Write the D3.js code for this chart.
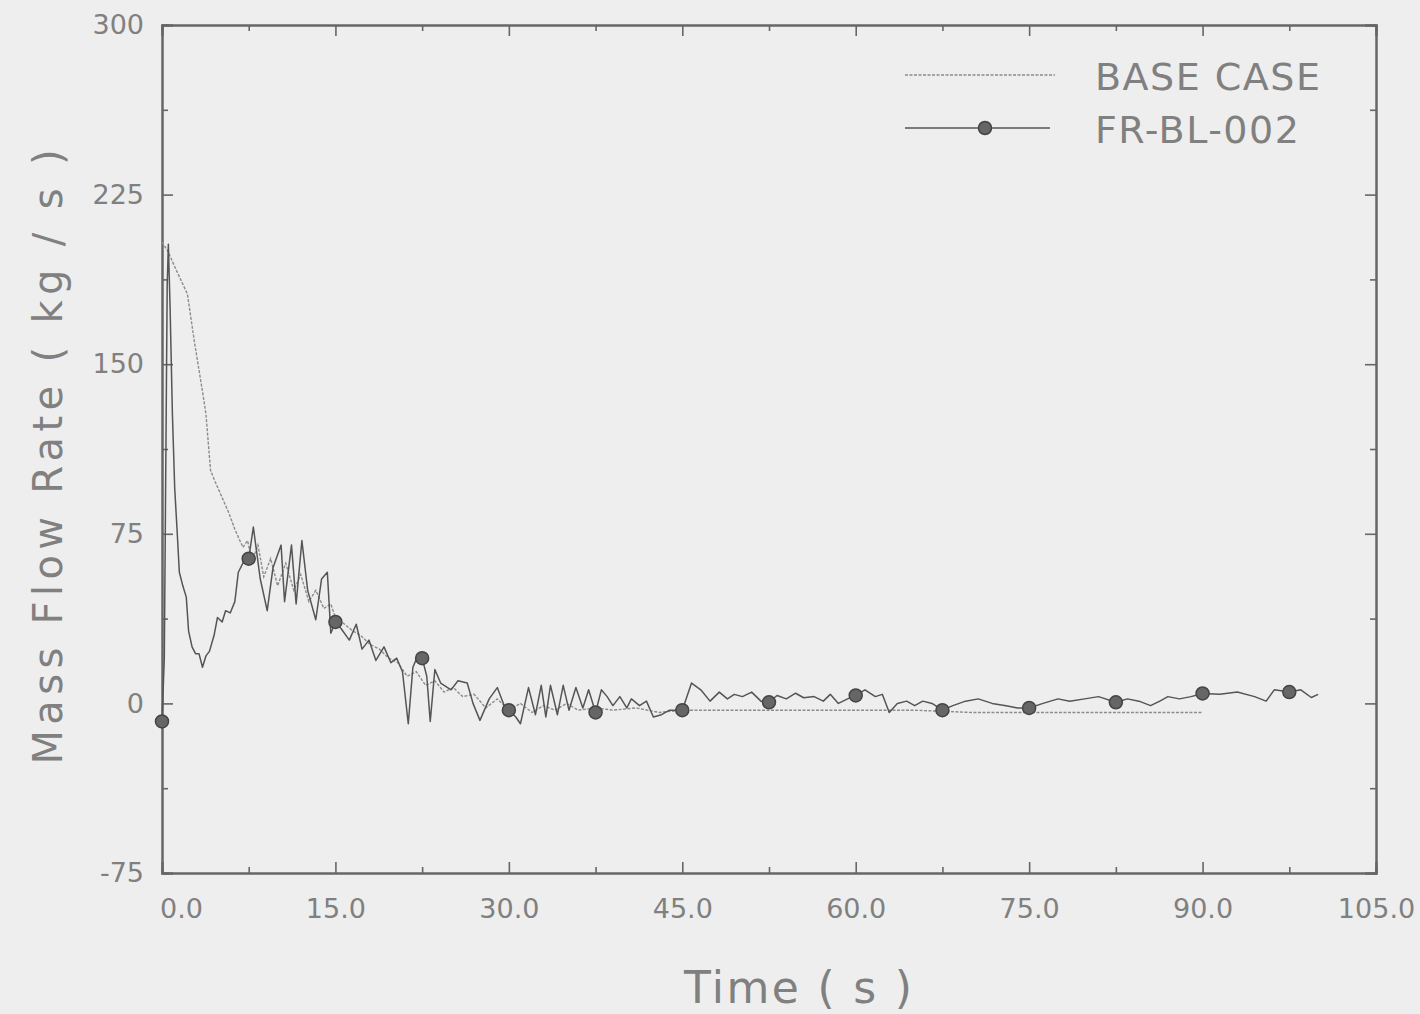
<!DOCTYPE html>
<html lang="en">
  <head>
    <meta charset="UTF-8" />
    <title>Mass Flow Rate</title>
    <style>
      html, body { margin: 0; padding: 0; background: #eeeeee; }
      text { font-family: "DejaVu Sans", "Liberation Sans", sans-serif; fill: #808080; }
    </style>
  </head>
  <body>
    <script src="https://d3js.org/d3.v7.min.js"></script>
    <script>
      // time (s), mass flow rate (kg/s)
      const baseCase = [
        [0, 204], [0.5, 200], [1.2, 192], [2.2, 181], [2.8, 160], [3.5, 138], [3.8, 128],
        [4.2, 103], [4.6, 98], [5.2, 91], [5.8, 84], [6.3, 77], [7.0, 69], [7.4, 72],
        [7.8, 63], [8.3, 70], [8.8, 56], [9.4, 64], [10, 52], [10.7, 62], [11.4, 50],
        [12, 57], [12.7, 45], [13.3, 50], [14, 42], [14.6, 44], [15, 38], [15.8, 35],
        [16.5, 32], [17.2, 30], [18, 26], [18.8, 24], [19.6, 20], [20.4, 18], [21.2, 12],
        [22, 14], [22.8, 8], [23.6, 10], [24.4, 5], [25.2, 7], [26, 3], [27, 4], [28, -2],
        [29, 2], [30, -3], [31, 0], [32, -4], [33, -1], [34, -3], [35, 0], [36, -3],
        [37.5, -2], [39, -3], [41, -2], [43, -4], [45, -3], [50, -3], [55, -3], [60, -3],
        [65, -3], [70, -4], [75, -4], [80, -4], [85, -4], [90, -4]
      ];

      const frBl002 = [
        [0, -8], [0.2, 20], [0.35, 120], [0.45, 185], [0.55, 203], [0.7, 175], [0.9, 128],
        [1.1, 95], [1.3, 77], [1.5, 58], [1.8, 52], [2.1, 47], [2.3, 32], [2.6, 25],
        [2.9, 22], [3.2, 22], [3.5, 16], [3.8, 21], [4.1, 23], [4.5, 30], [4.8, 38],
        [5.2, 36], [5.5, 41], [5.9, 40], [6.3, 45], [6.6, 58], [7.0, 62], [7.5, 64],
        [7.9, 78], [8.5, 55], [9.1, 41], [9.6, 60], [10.3, 70], [10.6, 45], [11.2, 70],
        [11.6, 44], [12.1, 72], [12.6, 50], [13.3, 37], [13.8, 55], [14.3, 58], [14.6, 31],
        [15, 36], [15.5, 33], [16.2, 28], [16.8, 35], [17.3, 24], [17.9, 28], [18.5, 19],
        [19.2, 25], [19.8, 18], [20.3, 20], [20.8, 14], [21.3, -9], [21.7, 16], [22.2, 22],
        [22.5, 20], [22.9, 12], [23.2, -8], [23.6, 15], [24.1, 9], [25, 6], [25.6, 10],
        [26.4, 9], [26.9, 0], [27.5, -7.5], [28.3, 2], [29, 7], [29.6, -1], [30, -3],
        [30.6, -6], [31, -9], [31.7, 7], [32.3, -5], [32.8, 8], [33.2, -6], [33.6, 8],
        [34.2, -5], [34.7, 8], [35.2, -3], [35.8, 7], [36.4, -2], [36.9, 6], [37.5, -4],
        [38, 6], [38.5, 3], [39, -1], [39.6, 3], [40.2, -2], [40.6, 2], [41.3, -1],
        [41.9, 1], [42.5, -6], [43.2, -5], [43.9, -3], [45, -3], [45.8, 9], [46.6, 6],
        [47.4, 1], [48.2, 5], [48.9, 2], [49.5, 4], [50.2, 3], [51, 5], [51.8, 1],
        [52.5, 0.5], [53.2, 3.5], [54, 2], [54.8, 4.5], [55.5, 2.5], [56.4, 3], [57.2, 1],
        [57.8, 4], [58.5, 0], [59.3, 2], [60, 3.5], [60.8, 6], [61.7, 3], [62.3, 4],
        [62.9, -4], [63.6, 0], [64.4, 1], [65.1, -1], [65.8, 1], [66.6, 0], [67.5, -3],
        [68.4, -1], [69.5, 1], [70.6, 2], [71.8, 0], [73, -1], [74, -2], [75, -2],
        [76.2, 0], [77.5, 2], [78.5, 1], [79.8, 2], [81, 3], [82.5, 0.5], [83.5, 2],
        [84.5, 1], [85.5, -1], [86.3, 1], [87, 3], [88, 2], [89, 3], [90, 4.4], [91.5, 4],
        [93, 5], [94.5, 3], [95.5, 1], [96.2, 6], [97.5, 5], [98.5, 6], [99.4, 2.6], [100, 4]
      ];

      const markerTimes = [0, 7.5, 15, 22.5, 30, 37.5, 45, 52.5, 60, 67.5, 75, 82.5, 90, 97.5];
      const markerFlows = [-8, 64, 36, 20, -3, -4, -3, 0.5, 3.5, -3, -2, 0.5, 4.4, 5];

      const xTicks = [0, 15, 30, 45, 60, 75, 90, 105];
      const xTickLabels = ["0.0", "15.0", "30.0", "45.0", "60.0", "75.0", "90.0", "105.0"];
      const xMinorTicks = [7.5, 22.5, 37.5, 52.5, 67.5, 82.5, 97.5];
      const yTicks = [-75, 0, 75, 150, 225, 300];
      const yTickLabels = ["-75", "0", "75", "150", "225", "300"];
      const yMinorTicks = [-37.5, 37.5, 112.5, 187.5, 262.5];

      const seriesNames = ["BASE CASE", "FR-BL-002"];

      const W = 1420, H = 1014;
      const plot = { left: 162, right: 1376, top: 25, bottom: 873 };

      const svg = d3.select("body").append("svg")
        .attr("width", W)
        .attr("height", H);

      svg.append("rect").attr("width", W).attr("height", H).attr("fill", "#eeeeee");

      const x = d3.scaleLinear().domain([0, 105]).range([plot.left, plot.right]);
      const y = d3.scaleLinear().domain([-75, 300]).range([plot.bottom, plot.top]);

      const axisColor = "#666";

      // frame + inward ticks on all four sides
      function styleAxis(g) {
        g.select(".domain").attr("stroke", axisColor).attr("stroke-width", 2);
        g.selectAll(".tick line").attr("stroke", axisColor).attr("stroke-width", 1.6);
      }

      const majorX = (axis) => axis(x).tickValues(xTicks).tickSizeOuter(0);
      const minorX = (axis) => axis(x).tickValues(xMinorTicks).tickSizeOuter(0).tickFormat("");
      const majorY = (axis) => axis(y).tickValues(yTicks).tickSizeOuter(0);
      const minorY = (axis) => axis(y).tickValues(yMinorTicks).tickSizeOuter(0).tickFormat("");

      // bottom
      svg.append("g").attr("transform", `translate(0,${plot.bottom})`)
        .call(majorX(d3.axisBottom).tickSize(-11).tickPadding(26)
          .tickFormat((d, i) => xTickLabels[i]))
        .call(styleAxis)
        .call((g) => g.selectAll("text")
          .attr("font-size", 27).attr("fill", "#808080")
          .attr("dx", (d) => (d === 0 ? 19 : 0)));
      svg.append("g").attr("transform", `translate(0,${plot.bottom})`)
        .call(minorX(d3.axisBottom).tickSize(-6)).call(styleAxis);

      // top
      svg.append("g").attr("transform", `translate(0,${plot.top})`)
        .call(majorX(d3.axisTop).tickSize(-11).tickFormat("")).call(styleAxis);
      svg.append("g").attr("transform", `translate(0,${plot.top})`)
        .call(minorX(d3.axisTop).tickSize(-6)).call(styleAxis);

      // left
      svg.append("g").attr("transform", `translate(${plot.left},0)`)
        .call(majorY(d3.axisLeft).tickSize(-11).tickPadding(18)
          .tickFormat((d, i) => yTickLabels[i]))
        .call(styleAxis)
        .call((g) => g.selectAll("text").attr("font-size", 27).attr("fill", "#808080"));
      svg.append("g").attr("transform", `translate(${plot.left},0)`)
        .call(minorY(d3.axisLeft).tickSize(-6)).call(styleAxis);

      // right
      svg.append("g").attr("transform", `translate(${plot.right},0)`)
        .call(majorY(d3.axisRight).tickSize(-11).tickFormat("")).call(styleAxis);
      svg.append("g").attr("transform", `translate(${plot.right},0)`)
        .call(minorY(d3.axisRight).tickSize(-6)).call(styleAxis);

      svg.selectAll(".tick text").attr("font-family", "DejaVu Sans, sans-serif");

      const line = d3.line().x((d) => x(d[0])).y((d) => y(d[1]));

      svg.append("path")
        .datum(baseCase)
        .attr("d", line)
        .attr("fill", "none")
        .attr("stroke", "#8c8c8c")
        .attr("stroke-width", 1.4)
        .attr("stroke-dasharray", "3,1.5");

      svg.append("path")
        .datum(frBl002)
        .attr("d", line)
        .attr("fill", "none")
        .attr("stroke", "#555")
        .attr("stroke-width", 1.5)
        .attr("stroke-linejoin", "round");

      svg.append("g")
        .selectAll("circle")
        .data(markerTimes.map((t, i) => [t, markerFlows[i]]))
        .join("circle")
        .attr("cx", (d) => x(d[0]))
        .attr("cy", (d) => y(d[1]))
        .attr("r", 6.5)
        .attr("fill", "#666")
        .attr("stroke", "#444")
        .attr("stroke-width", 1.5);

      // legend
      const legend = svg.append("g");
      legend.append("line")
        .attr("x1", 905).attr("x2", 1055).attr("y1", 75).attr("y2", 75)
        .attr("stroke", "#8c8c8c").attr("stroke-width", 1.4).attr("stroke-dasharray", "3,1.5");
      legend.append("line")
        .attr("x1", 905).attr("x2", 1050).attr("y1", 128).attr("y2", 128)
        .attr("stroke", "#555").attr("stroke-width", 1.5);
      legend.append("circle")
        .attr("cx", 985).attr("cy", 128).attr("r", 6.5)
        .attr("fill", "#666").attr("stroke", "#444").attr("stroke-width", 1.5);
      legend.selectAll("text")
        .data(seriesNames)
        .join("text")
        .attr("x", 1095)
        .attr("y", (d, i) => 90 + i * 53)
        .attr("font-size", 38)
        .attr("letter-spacing", 1.5)
        .text((d) => d);

      // axis titles
      svg.append("text")
        .attr("transform", "translate(62,457) rotate(-90)")
        .attr("text-anchor", "middle")
        .attr("font-size", 40)
        .attr("textLength", 615)
        .attr("lengthAdjust", "spacing")
        .text("Mass Flow Rate  ( kg / s )");

      svg.append("text")
        .attr("x", 798)
        .attr("y", 1003)
        .attr("text-anchor", "middle")
        .attr("font-size", 44)
        .attr("textLength", 228)
        .attr("lengthAdjust", "spacing")
        .text("Time  ( s )");
    </script>
  </body>
</html>
